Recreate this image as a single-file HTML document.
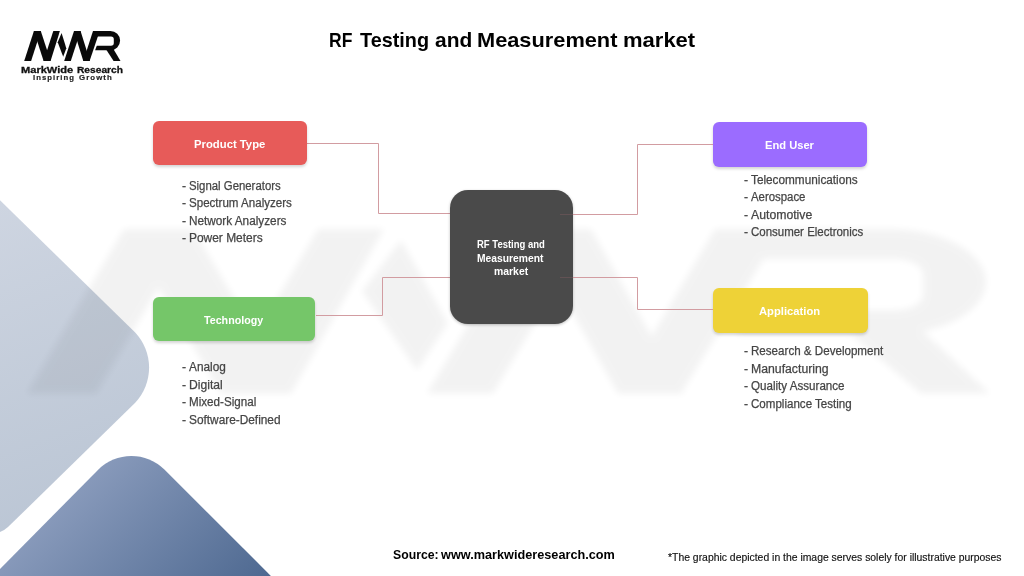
<!DOCTYPE html>
<html>
<head>
<meta charset="utf-8">
<title>RF Testing and Measurement market</title>
<style>
  html, body { margin: 0; padding: 0; }
  body {
    width: 1024px; height: 576px; overflow: hidden; position: relative;
    background: #ffffff;
    font-family: "Liberation Sans", sans-serif;
  }
  #bg { position: absolute; left: 0; top: 0; width: 1024px; height: 576px; }
  .t { position: absolute; white-space: nowrap; transform-origin: 0 50%; display: block; }
  .box { position: absolute; border-radius: 6px; box-shadow: 0 2px 3px rgba(0,0,0,0.17); }
  .center {
    position: absolute; left: 450px; top: 190.4px; width: 122.8px; height: 133.2px;
    border-radius: 18px; background: #4a4a4a;
    box-shadow: 0 1px 3px rgba(0,0,0,0.25);
  }
  #fg { position: absolute; left: 0; top: 0; width: 1024px; height: 576px; pointer-events: none; }
</style>
</head>
<body>
<svg id="bg" width="1024" height="576" viewBox="0 0 1024 576">
  <defs>
    <linearGradient id="g1" gradientUnits="userSpaceOnUse" x1="0" y1="200" x2="120" y2="520">
      <stop offset="0" stop-color="#ced5e1"/>
      <stop offset="1" stop-color="#bac5d4"/>
    </linearGradient>
    <linearGradient id="g2" gradientUnits="userSpaceOnUse" x1="0" y1="568" x2="141" y2="709">
      <stop offset="0" stop-color="#8799ba"/>
      <stop offset="1" stop-color="#4d6890"/>
    </linearGradient>
    <filter id="blur" x="-5%" y="-10%" width="110%" height="120%"><feGaussianBlur stdDeviation="3.5"/></filter>
    <g id="mwr">
      <polygon points="24.2,61.1 31.1,61.1 40.8,30.9 33.9,30.9"/>
      <polygon points="33.9,30.9 40.8,30.9 50.6,61.1 43.6,61.1"/>
      <polygon points="43.6,61.1 50.6,61.1 59.9,30.9 53.3,30.9"/>
      <polygon points="61.6,32.9 66.3,48.2 63.2,56.8 57.7,42.3"/>
      <polygon points="64.2,61.1 70.8,61.1 80.6,30.9 74,30.9"/>
      <polygon points="74,30.9 80.6,30.9 89.9,61.1 83.3,61.1"/>
      <polygon points="83.3,61.1 89.6,61.1 99.7,30.9 93,30.9"/>
      <path d="M95,30.9 H110.4 A9.7,9.7 0 0 1 110.4,50.3 H95.1 L96.8,45.8 H111 A2.8,2.8 0 0 0 113.8,43 V39.2 A2.8,2.8 0 0 0 111,36.4 H95 Z"/>
      <polygon points="105.8,49 113.4,49 120.5,61.1 113.6,61.1"/>
    </g>
  </defs>
  <!-- decorative diamonds -->
  <path d="M-10,190.6 L135.2,332.4 A51.4,51.4 0 0 1 135.2,402.7 L8,527.1 Q2.5,532.2 -3,532.6 L-10,533 Z" fill="url(#g1)"/>
  <path d="M-10,579.1 L98.2,469.7 A47,47 0 0 1 164.4,469.5 L280.9,586 L-10,586 Z" fill="url(#g2)"/>
  <!-- watermark -->
  <g filter="url(#blur)" opacity="0.047">
    <g transform="translate(27,229) scale(10.0,5.45) translate(-24.2,-30.9)" fill="#000" color="#000">
      <use href="#mwr"/>
    </g>
  </g>
  <!-- connectors (left) -->
  <g fill="none" stroke="#d29ca1" stroke-width="1">
    <polyline points="307,143.5 378.5,143.5 378.5,213.5 450,213.5"/>
    <polyline points="316,315.5 382.5,315.5 382.5,277.5 450,277.5"/>
  </g>
  <!-- logo -->
  <g fill="#0a0a0a" color="#0a0a0a"><use href="#mwr"/></g>
</svg>

<div class="box" style="left:152.8px;top:121.2px;width:153.9px;height:44.1px;background:#e75b59;"></div>
<div class="box" style="left:152.8px;top:297px;width:162.7px;height:44.4px;background:#75c669;"></div>
<div class="box" style="left:713px;top:122.3px;width:154.1px;height:44.6px;background:#9b6cff;"></div>
<div class="box" style="left:712.5px;top:288px;width:155.4px;height:45.1px;background:#eed237;"></div>
<div class="center"></div>

<svg id="fg" width="1024" height="576" viewBox="0 0 1024 576">
  <!-- connectors (right) drawn over the centre box -->
  <g fill="none" stroke="#d29ca1" stroke-width="1">
    <polyline points="713,144.5 637.5,144.5 637.5,214.5 573,214.5"/>
    <polyline points="713,309.5 637.5,309.5 637.5,277.5 573,277.5"/>
  </g>
  <g fill="none" stroke="#625254" stroke-width="1">
    <line x1="560" y1="214.5" x2="573" y2="214.5"/>
    <line x1="560" y1="277.5" x2="573" y2="277.5"/>
  </g>
</svg>

<span class="t" id="ti0" style="left:328.57px;top:27.12px;font-size:21.00px;line-height:25.20px;color:#000;font-weight:bold;transform:scaleX(0.8329);">RF</span>
<span class="t" id="ti1" style="left:359.83px;top:27.12px;font-size:21.00px;line-height:25.20px;color:#000;font-weight:bold;transform:scaleX(0.9447);">Testing</span>
<span class="t" id="ti2" style="left:434.87px;top:27.12px;font-size:21.00px;line-height:25.20px;color:#000;font-weight:bold;transform:scaleX(0.9960);">and</span>
<span class="t" id="ti3" style="left:476.95px;top:27.12px;font-size:21.00px;line-height:25.20px;color:#000;font-weight:bold;transform:scaleX(1.0372);">Measurement</span>
<span class="t" id="ti4" style="left:623.38px;top:27.12px;font-size:21.00px;line-height:25.20px;color:#000;font-weight:bold;transform:scaleX(1.0481);">market</span>
<span class="t" id="b1" style="left:193.82px;top:137.32px;font-size:11.60px;line-height:13.92px;color:#fff;font-weight:bold;transform:scaleX(0.9742);">Product Type</span>
<span class="t" id="b2" style="left:204.15px;top:313.32px;font-size:11.60px;line-height:13.92px;color:#fff;font-weight:bold;transform:scaleX(0.9216);">Technology</span>
<span class="t" id="b3" style="left:764.85px;top:138.32px;font-size:11.60px;line-height:13.92px;color:#fff;font-weight:bold;transform:scaleX(0.9620);">End User</span>
<span class="t" id="b4" style="left:759.02px;top:304.42px;font-size:11.60px;line-height:13.92px;color:#fff;font-weight:bold;transform:scaleX(0.9681);">Application</span>
<span class="t" id="l1_0d" style="left:182.00px;top:178.95px;font-size:12.30px;line-height:14.76px;color:#454545;-webkit-text-stroke:0.25px #454545;transform:scaleX(0.9960);">-</span>
<span class="t" id="l1_0" style="left:189.34px;top:178.95px;font-size:12.30px;line-height:14.76px;color:#454545;-webkit-text-stroke:0.25px #454545;transform:scaleX(0.9250);">Signal Generators</span>
<span class="t" id="l1_1d" style="left:182.00px;top:195.66px;font-size:12.30px;line-height:14.76px;color:#454545;-webkit-text-stroke:0.25px #454545;transform:scaleX(0.9960);">-</span>
<span class="t" id="l1_1" style="left:188.96px;top:195.66px;font-size:12.30px;line-height:14.76px;color:#454545;-webkit-text-stroke:0.25px #454545;transform:scaleX(0.9406);">Spectrum Analyzers</span>
<span class="t" id="l1_2d" style="left:182.00px;top:213.95px;font-size:12.30px;line-height:14.76px;color:#454545;-webkit-text-stroke:0.25px #454545;transform:scaleX(0.9960);">-</span>
<span class="t" id="l1_2" style="left:188.68px;top:213.95px;font-size:12.30px;line-height:14.76px;color:#454545;-webkit-text-stroke:0.25px #454545;transform:scaleX(0.9568);">Network Analyzers</span>
<span class="t" id="l1_3d" style="left:182.00px;top:230.66px;font-size:12.30px;line-height:14.76px;color:#454545;-webkit-text-stroke:0.25px #454545;transform:scaleX(0.9960);">-</span>
<span class="t" id="l1_3" style="left:188.67px;top:230.66px;font-size:12.30px;line-height:14.76px;color:#454545;-webkit-text-stroke:0.25px #454545;transform:scaleX(0.9712);">Power Meters</span>
<span class="t" id="l2_0d" style="left:182.00px;top:360.15px;font-size:12.30px;line-height:14.76px;color:#454545;-webkit-text-stroke:0.25px #454545;transform:scaleX(0.9960);">-</span>
<span class="t" id="l2_0" style="left:188.96px;top:360.15px;font-size:12.30px;line-height:14.76px;color:#454545;-webkit-text-stroke:0.25px #454545;transform:scaleX(0.9617);">Analog</span>
<span class="t" id="l2_1d" style="left:182.00px;top:377.75px;font-size:12.30px;line-height:14.76px;color:#454545;-webkit-text-stroke:0.25px #454545;transform:scaleX(0.9960);">-</span>
<span class="t" id="l2_1" style="left:188.63px;top:377.75px;font-size:12.30px;line-height:14.76px;color:#454545;-webkit-text-stroke:0.25px #454545;transform:scaleX(0.9857);">Digital</span>
<span class="t" id="l2_2d" style="left:182.00px;top:394.56px;font-size:12.30px;line-height:14.76px;color:#454545;-webkit-text-stroke:0.25px #454545;transform:scaleX(0.9960);">-</span>
<span class="t" id="l2_2" style="left:188.69px;top:394.56px;font-size:12.30px;line-height:14.76px;color:#454545;-webkit-text-stroke:0.25px #454545;transform:scaleX(0.9456);">Mixed-Signal</span>
<span class="t" id="l2_3d" style="left:182.00px;top:412.85px;font-size:12.30px;line-height:14.76px;color:#454545;-webkit-text-stroke:0.25px #454545;transform:scaleX(0.9960);">-</span>
<span class="t" id="l2_3" style="left:188.95px;top:412.85px;font-size:12.30px;line-height:14.76px;color:#454545;-webkit-text-stroke:0.25px #454545;transform:scaleX(0.9635);">Software-Defined</span>
<span class="t" id="l3_0d" style="left:744.00px;top:172.85px;font-size:12.30px;line-height:14.76px;color:#454545;-webkit-text-stroke:0.25px #454545;transform:scaleX(0.9960);">-</span>
<span class="t" id="l3_0" style="left:750.80px;top:172.85px;font-size:12.30px;line-height:14.76px;color:#454545;-webkit-text-stroke:0.25px #454545;transform:scaleX(0.9580);">Telecommunications</span>
<span class="t" id="l3_1d" style="left:744.00px;top:189.56px;font-size:12.30px;line-height:14.76px;color:#454545;-webkit-text-stroke:0.25px #454545;transform:scaleX(0.9960);">-</span>
<span class="t" id="l3_1" style="left:751.44px;top:189.56px;font-size:12.30px;line-height:14.76px;color:#454545;-webkit-text-stroke:0.25px #454545;transform:scaleX(0.9263);">Aerospace</span>
<span class="t" id="l3_2d" style="left:744.00px;top:207.85px;font-size:12.30px;line-height:14.76px;color:#454545;-webkit-text-stroke:0.25px #454545;transform:scaleX(0.9960);">-</span>
<span class="t" id="l3_2" style="left:751.08px;top:207.85px;font-size:12.30px;line-height:14.76px;color:#454545;-webkit-text-stroke:0.25px #454545;transform:scaleX(0.9960);">Automotive</span>
<span class="t" id="l3_3d" style="left:744.00px;top:224.56px;font-size:12.30px;line-height:14.76px;color:#454545;-webkit-text-stroke:0.25px #454545;transform:scaleX(0.9960);">-</span>
<span class="t" id="l3_3" style="left:751.46px;top:224.56px;font-size:12.30px;line-height:14.76px;color:#454545;-webkit-text-stroke:0.25px #454545;transform:scaleX(0.9334);">Consumer Electronics</span>
<span class="t" id="l4_0d" style="left:744.00px;top:343.56px;font-size:12.30px;line-height:14.76px;color:#454545;-webkit-text-stroke:0.25px #454545;transform:scaleX(0.9960);">-</span>
<span class="t" id="l4_0" style="left:750.71px;top:343.56px;font-size:12.30px;line-height:14.76px;color:#454545;-webkit-text-stroke:0.25px #454545;transform:scaleX(0.9430);">Research &amp; Development</span>
<span class="t" id="l4_1d" style="left:744.00px;top:361.85px;font-size:12.30px;line-height:14.76px;color:#454545;-webkit-text-stroke:0.25px #454545;transform:scaleX(0.9960);">-</span>
<span class="t" id="l4_1" style="left:750.57px;top:361.85px;font-size:12.30px;line-height:14.76px;color:#454545;-webkit-text-stroke:0.25px #454545;transform:scaleX(0.9960);">Manufacturing</span>
<span class="t" id="l4_2d" style="left:744.00px;top:378.56px;font-size:12.30px;line-height:14.76px;color:#454545;-webkit-text-stroke:0.25px #454545;transform:scaleX(0.9960);">-</span>
<span class="t" id="l4_2" style="left:750.54px;top:378.56px;font-size:12.30px;line-height:14.76px;color:#454545;-webkit-text-stroke:0.25px #454545;transform:scaleX(0.9441);">Quality Assurance</span>
<span class="t" id="l4_3d" style="left:744.00px;top:396.85px;font-size:12.30px;line-height:14.76px;color:#454545;-webkit-text-stroke:0.25px #454545;transform:scaleX(0.9960);">-</span>
<span class="t" id="l4_3" style="left:750.95px;top:396.85px;font-size:12.30px;line-height:14.76px;color:#454545;-webkit-text-stroke:0.25px #454545;transform:scaleX(0.9404);">Compliance Testing</span>
<span class="t" id="c1" style="left:476.92px;top:238.48px;font-size:10.80px;line-height:12.96px;color:#fff;font-weight:bold;transform:scaleX(0.8795);">RF Testing and</span>
<span class="t" id="c2" style="left:477.22px;top:252.48px;font-size:10.80px;line-height:12.96px;color:#fff;font-weight:bold;transform:scaleX(0.9540);">Measurement</span>
<span class="t" id="c3" style="left:493.85px;top:265.18px;font-size:10.80px;line-height:12.96px;color:#fff;font-weight:bold;transform:scaleX(0.9642);">market</span>
<span class="t" id="src1" style="left:392.89px;top:547.12px;font-size:13.50px;line-height:16.20px;color:#000;font-weight:bold;transform:scaleX(0.9070);">Source:</span>
<span class="t" id="src2" style="left:440.76px;top:547.12px;font-size:13.50px;line-height:16.20px;color:#000;font-weight:bold;transform:scaleX(0.9407);">www.markwideresearch.com</span>
<span class="t" id="note" style="left:668.05px;top:550.87px;font-size:10.70px;line-height:12.84px;color:#111;-webkit-text-stroke:0.15px #111;transform:scaleX(0.9731);">*The graphic depicted in the image serves solely for illustrative purposes</span>
<span class="t" id="lg1a" style="left:21.28px;top:63.90px;font-size:9.40px;line-height:11.28px;color:#111;font-weight:bold;-webkit-text-stroke:0.3px #111;transform:scaleX(1.1815);">MarkWide</span>
<span class="t" id="lg1b" style="left:77.41px;top:63.90px;font-size:9.40px;line-height:11.28px;color:#111;font-weight:bold;-webkit-text-stroke:0.3px #111;transform:scaleX(1.0879);">Research</span>
<span class="t" id="lg2a" style="left:33.06px;top:73.55px;font-size:6.60px;line-height:7.92px;color:#222;font-weight:bold;letter-spacing:0.9px;-webkit-text-stroke:0.15px #222;transform:scaleX(1.1668);">Inspiring</span>
<span class="t" id="lg2b" style="left:78.53px;top:73.55px;font-size:6.60px;line-height:7.92px;color:#222;font-weight:bold;letter-spacing:0.9px;-webkit-text-stroke:0.15px #222;transform:scaleX(1.1889);">Growth</span>
</body>
</html>
